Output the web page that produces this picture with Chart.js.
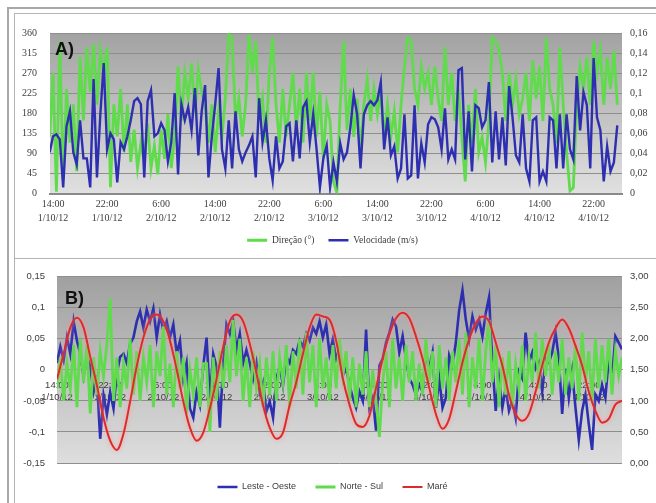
<!DOCTYPE html>
<html>
<head>
<meta charset="utf-8">
<script src="https://cdn.jsdelivr.net/npm/chart.js@4.4.1/dist/chart.umd.min.js"></script>
<style>
  html, body { margin: 0; padding: 0; background: #fff; }
  body { width: 656px; height: 503px; position: relative; overflow: hidden; }
  .frame { position: absolute; left: 7px; top: 7px; width: 700px; height: 560px;
           border-left: 2px solid #a8a8a8; border-top: 2px solid #a8a8a8; }
  .panel { position: absolute; left: 14px; width: 650px; border: 1px solid #b4b4b4; background: #fff; }
  #panelA { top: 13px; height: 244px; }
  #panelB { top: 258px; height: 250px; }
  canvas { position: absolute; left: 0; top: 0; }
</style>
</head>
<body>
<div class="frame"></div>
<div class="panel" id="panelA"><canvas id="chartA" width="635" height="243"></canvas></div>
<div class="panel" id="panelB"><canvas id="chartB" width="635" height="244"></canvas></div>
<script>
// time axis: hours after 14:00 on 1/10/12
const tickHours = [0, 8, 16, 24, 32, 40, 48, 56, 64, 72, 80];
const tickLabels = [
  ['14:00', '1/10/12'], ['22:00', '1/10/12'], ['6:00', '2/10/12'], ['14:00', '2/10/12'],
  ['22:00', '2/10/12'], ['6:00', '3/10/12'], ['14:00', '3/10/12'], ['22:00', '3/10/12'],
  ['6:00', '4/10/12'], ['14:00', '4/10/12'], ['22:00', '4/10/12']
];

// panel A axes
const dirTicks = [0, 45, 90, 135, 180, 225, 270, 315, 360];
const dirTickLabels = ['0', '45', '90', '135', '180', '225', '270', '315', '360'];
const velTicks = [0, 0.02, 0.04, 0.06, 0.08, 0.1, 0.12, 0.14, 0.16];
const velTickLabels = ['0', '0,02', '0,04', '0,06', '0,08', '0,1', '0,12', '0,14', '0,16'];

// panel B axes
const compTicks = [-0.15, -0.1, -0.05, 0, 0.05, 0.1, 0.15];
const compTickLabels = ['-0,15', '-0,1', '-0,05', '0', '0,05', '0,1', '0,15'];
const tideTicks = [0, 0.5, 1, 1.5, 2, 2.5, 3];
const tideTickLabels = ['0,00', '0,50', '1,00', '1,50', '2,00', '2,50', '3,00'];

// panel A series, half-hourly from 13:30 1/10
const startA = -0.5;
const direcao = [
  128, 271, 4, 342, 29, 235, 114, 200, 50, 307,
  164, 328, 228, 335, 200, 321, 271, 328, 14, 200,
  128, 235, 93, 200, 71, 143, 57, 114, 71, 157,
  57, 107, 43, 143, 78, 178, 57, 128, 285, 164,
  271, 214, 292, 178, 278, 228, 200, 114, 200, 93,
  185, 128, 214, 357, 349, 164, 214, 128, 200, 357,
  271, 342, 164, 214, 114, 271, 349, 200, 114, 235,
  128, 200, 271, 143, 235, 114, 271, 164, 271, 128,
  228, 78, 200,
  162, 27, 2, 199, 342, 142, 235, 127, 213, 92,
  199, 256, 163, 235, 178, 228, 127, 199, 127, 185,
  92, 199, 285, 349, 342, 235, 199, 285, 235, 271,
  199, 285, 213, 163, 328, 199, 271, 163, 235, 127,
  27, 199, 113, 235, 92, 127, 70, 163, 349, 342,
  321, 271, 163, 271, 199, 256, 178, 213, 271, 163,
  299, 213, 285, 163, 349, 235, 199, 113, 328, 199,
  92, 6, 13, 199, 285, 235, 306, 199, 342, 271,
  321, 199, 306, 235, 321, 199
];
const velocidade = [
  0.041, 0.057, 0.059, 0.054, 0.006, 0.067, 0.082, 0.041, 0.029, 0.073,
  0.035, 0.035, 0.006, 0.114, 0.016, 0.079, 0.130, 0.044, 0.060, 0.054,
  0.011, 0.051, 0.044, 0.057, 0.073, 0.092, 0.095, 0.089, 0.016, 0.092,
  0.103, 0.057, 0.060, 0.070, 0.063, 0.032, 0.051, 0.100, 0.019, 0.089,
  0.073, 0.086, 0.063, 0.105, 0.038, 0.082, 0.108, 0.016, 0.057, 0.089,
  0.125, 0.044, 0.025, 0.073, 0.025, 0.082, 0.044, 0.032, 0.041, 0.048,
  0.057, 0.016, 0.095, 0.051, 0.073, 0.035, 0.013, 0.057, 0.025, 0.032,
  0.067, 0.070, 0.032, 0.073, 0.035, 0.086, 0.092, 0.051, 0.079, 0.044,
  0.006, 0.035, 0.048,
  0.006, 0.031, 0.012, 0.050, 0.034, 0.041, 0.066, 0.098, 0.079, 0.025,
  0.079, 0.088, 0.092, 0.088, 0.093, 0.111, 0.044, 0.076, 0.038, 0.047,
  0.015, 0.025, 0.079, 0.015, 0.018, 0.088, 0.015, 0.050, 0.031, 0.069,
  0.076, 0.074, 0.066, 0.044, 0.085, 0.034, 0.044, 0.034, 0.123, 0.125,
  0.034, 0.082, 0.022, 0.088, 0.085, 0.066, 0.073, 0.111, 0.031, 0.082,
  0.034, 0.076, 0.028, 0.107, 0.076, 0.038, 0.031, 0.079, 0.025, 0.012,
  0.073, 0.076, 0.012, 0.022, 0.012, 0.076, 0.073, 0.025, 0.079, 0.025,
  0.079, 0.044, 0.034, 0.117, 0.063, 0.101, 0.088, 0.025, 0.135, 0.076,
  0.063, 0.012, 0.047, 0.022, 0.031, 0.068
];

// panel B current components, half-hourly from 14:00 1/10
const startB = 0;
const lesteOeste = [
  0.011, 0.037, 0.016, 0.052, 0.026, 0.078, 0.047, 0.026, -0.010, 0.021,
  0.006, -0.036, -0.015, -0.111, -0.041, -0.072, -0.036, -0.062, -0.005, 0.021,
  0.026, 0.011, 0.042, 0.052, 0.078, 0.094, 0.068, 0.097, 0.078, 0.099,
  0.052, 0.089, 0.063, 0.078, 0.052, 0.073, 0.026, 0.047, -0.015, 0.011,
  -0.062, -0.077, -0.036, -0.057, 0.006, 0.052, -0.046, 0.026, 0.006, -0.093,
  0.011, 0.073, 0.058, 0.078, 0.032, 0.058, 0.011, 0.032, 0.011, -0.015,
  0.011, -0.036, -0.020, -0.067, -0.051, -0.077, -0.015, 0.006, -0.025, 0.021,
  0.011, 0.032, 0.026, 0.047, 0.037, 0.058, 0.047, 0.068, 0.058, 0.078,
  0.052, 0.073, 0.026,
  0.049, 0.018, 0.033, -0.009, 0.002, -0.024, -0.045, -0.061, -0.035, -0.050,
  0.065, -0.061, -0.045, -0.098, 0.007, 0.018, 0.044, 0.060, 0.081, 0.070,
  0.028, 0.054, 0.018, -0.014, -0.024, -0.040, -0.024, -0.035, 0.028, 0.002,
  0.028, -0.061, -0.014, -0.061, -0.045, 0.023, 0.007, 0.044, 0.096, 0.128,
  0.081, 0.049, 0.086, 0.065, 0.081, 0.054, 0.091, 0.117, 0.012, -0.066,
  -0.014, -0.061, -0.029, -0.066, -0.050, -0.077, -0.003, -0.014, 0.060, 0.012,
  0.028, 0.002, 0.012, -0.035, 0.018, 0.012, 0.028, 0.060, 0.018, -0.071,
  0.002, -0.045, -0.003, -0.061, -0.113, -0.066, -0.040, -0.087, -0.129, -0.040,
  -0.050, -0.024, -0.045, 0.018, -0.014, 0.054, 0.044, 0.033
];
const norteSul = [
  -0.03, 0.02, -0.05, 0.01, -0.03, 0.04, -0.06, 0.05, -0.02, 0.04,
  -0.07, 0.02, -0.04, 0.03, -0.01, 0.04, 0.115, -0.05, 0.02, -0.06,
  0.01, -0.03, 0.05, -0.04, 0.03, -0.05, 0.02, -0.02, 0.04, -0.06,
  0.03, -0.01, 0.07, -0.04, 0.01, -0.06, 0.03, -0.03, 0.02, -0.07,
  0.0, -0.04, 0.02, -0.06, 0.01, 0.01, -0.1, 0.02, -0.05, 0.03,
  -0.03, 0.04, -0.02, 0.08, -0.01, 0.05, -0.05, 0.02, -0.06, 0.03,
  -0.03, 0.01, -0.06, 0.02, -0.04, 0.03, -0.05, 0.02, -0.02, 0.04,
  -0.06, 0.03, -0.03, 0.05, -0.04, 0.06, -0.02, 0.04, -0.06, 0.05,
  -0.03, 0.02, -0.05,
  0.04, -0.03, 0.05, -0.01, 0.03, -0.05, 0.02, -0.06, 0.01, -0.04,
  0.03, -0.06, 0.0, -0.05, -0.108, -0.02, 0.03, -0.06, 0.05, -0.03,
  0.02, -0.05, 0.04, -0.02, 0.03, -0.05, 0.01, -0.04, 0.05, -0.02,
  0.03, -0.06, 0.04, -0.03, 0.02, -0.05, 0.03, -0.02, 0.05, -0.04,
  0.06, -0.06, 0.02, -0.03, 0.05, -0.05, 0.03, 0.08, -0.02, 0.04,
  -0.06, 0.02, -0.04, 0.03, -0.06, 0.01, -0.03, 0.04, -0.05, 0.02,
  -0.02, 0.06, -0.03, 0.05, -0.01, 0.04, -0.04, 0.03, -0.02, 0.05,
  -0.04, 0.02, -0.03, 0.04, -0.05, 0.06, -0.02, 0.03, -0.05, 0.05,
  -0.03, 0.04, -0.02, 0.05, -0.04, 0.03, -0.01, 0.02
];
// tide level, hourly from 14:00 1/10
const mare = [
  1.35, 1.76, 2.18, 2.34, 2.18, 1.71, 1.25, 0.73, 0.36, 0.21,
  0.47, 0.99, 1.56, 2.02, 2.31, 2.39, 2.28, 1.97, 1.51, 0.99,
  0.57, 0.36, 0.49, 0.88, 1.35, 1.87, 2.28, 2.39, 2.28, 1.92,
  1.45, 0.93, 0.57, 0.39, 0.49, 0.93, 1.30, 1.76, 2.18, 2.39,
  2.36, 2.31, 1.97, 1.36, 0.94, 0.63, 0.58, 0.76, 1.21, 1.68,
  2.07, 2.33, 2.42, 2.33, 2.04, 1.68, 1.21, 0.79, 0.55, 0.71,
  1.15, 1.62, 1.99, 2.25, 2.36, 2.28, 1.94, 1.57, 1.10, 0.79,
  0.68, 0.79, 1.15, 1.57, 1.94, 2.17, 2.31, 2.17, 1.89, 1.57,
  1.15, 0.84, 0.65, 0.71, 0.94, 1.00
];

const GREEN = '#5fdb4c';
const BLUE = '#2d2fb0';
const RED = '#dd2b2b';
const TEXT = '#3c3c3c';
const GRID = '#8e8e8e';
const SERIF = '"Liberation Serif", "DejaVu Serif", serif';
const SANS = '"Liberation Sans", Arial, sans-serif';

const series = (values, start, step) => values.map((v, i) => ({ x: start + i * step, y: v }));

// grey gradient behind the plot area
const plotBackground = {
  id: 'plotBackground',
  beforeDraw(chart, args, opts) {
    const { ctx, chartArea: a } = chart;
    const g = ctx.createLinearGradient(0, a.top, 0, a.bottom);
    g.addColorStop(0, opts.top);
    g.addColorStop(1, opts.bottom);
    ctx.save();
    ctx.fillStyle = g;
    ctx.fillRect(a.left, a.top, a.right - a.left, a.bottom - a.top);
    ctx.restore();
  }
};

// pink glow around the tide curve
const lineGlow = {
  id: 'lineGlow',
  beforeDatasetDraw(chart, args, opts) {
    if (chart.data.datasets[args.index].label !== opts.label) return;
    const ctx = chart.ctx;
    ctx.save();
    ctx.shadowColor = opts.color;
    ctx.shadowBlur = opts.blur;
  },
  afterDatasetDraw(chart, args, opts) {
    if (chart.data.datasets[args.index].label !== opts.label) return;
    chart.ctx.restore();
  }
};

// "A)" / "B)" tag in the upper left corner of the plot
const panelTag = {
  id: 'panelTag',
  afterDatasetsDraw(chart, args, opts) {
    const { ctx, chartArea: a } = chart;
    ctx.save();
    ctx.font = 'bold 18px ' + SANS;
    ctx.fillStyle = '#111';
    ctx.textBaseline = 'middle';
    ctx.fillText(opts.text, a.left + opts.dx, a.top + opts.dy);
    ctx.restore();
  }
};

const timeAxis = (extra) => Object.assign({
  type: 'linear',
  afterBuildTicks: s => { s.ticks = tickHours.map(v => ({ value: v })); },
  grid: { display: false, drawTicks: false }
}, extra);

const valueAxis = (vals, extra) => Object.assign({
  afterBuildTicks: s => { s.ticks = vals.map(v => ({ value: v })); },
  border: { display: false }
}, extra);

const legendOpts = (font, padding) => ({
  position: 'bottom',
  labels: {
    color: TEXT, font, padding,
    usePointStyle: true, pointStyle: 'line', pointStyleWidth: 20,
    sort: (a, b) => a.datasetIndex - b.datasetIndex
  }
});

new Chart(document.getElementById('chartA'), {
  type: 'line',
  data: {
    datasets: [
      { label: 'Direção (°)', data: series(direcao, startA, 0.5), yAxisID: 'y',
        borderColor: GREEN, backgroundColor: GREEN, borderWidth: 2.8, pointRadius: 0, tension: 0, order: 2 },
      { label: 'Velocidade (m/s)', data: series(velocidade, startA, 0.5), yAxisID: 'y1',
        borderColor: BLUE, backgroundColor: BLUE, borderWidth: 2.4, pointRadius: 0, tension: 0, order: 1 }
    ]
  },
  options: {
    responsive: false, animation: false,
    layout: { padding: { top: 11, bottom: 2, left: 0, right: 0 } },
    plugins: {
      legend: legendOpts({ family: SERIF, size: 9.5 }, 14),
      tooltip: { enabled: false },
      plotBackground: { top: '#a2a2a2', bottom: '#e0e0e0' },
      panelTag: { text: 'A)', dx: 5, dy: 17 }
    },
    scales: {
      x: timeAxis({
        min: -0.45, max: 84.2,
        afterFit: s => { s.height = 28; },
        border: { color: '#8a8a8a', width: 2 },
        ticks: { autoSkip: false, maxRotation: 0, padding: 4, color: TEXT,
                 font: { family: SERIF, size: 10, lineHeight: 1.4 }, callback: (v, i) => tickLabels[i] }
      }),
      y: valueAxis(dirTicks, {
        position: 'left', min: 0, max: 360,
        afterFit: s => { s.width = 35; },
        grid: { color: GRID, drawTicks: false },
        ticks: { padding: 13, color: TEXT, font: { family: SERIF, size: 10 }, callback: (v, i) => dirTickLabels[i] }
      }),
      y1: valueAxis(velTicks, {
        position: 'right', min: 0, max: 0.16,
        afterFit: s => { s.width = 28; },
        grid: { display: false, drawTicks: false },
        ticks: { padding: 8, color: TEXT, font: { family: SERIF, size: 10 }, callback: (v, i) => velTickLabels[i] }
      })
    }
  },
  plugins: [plotBackground, panelTag]
});

new Chart(document.getElementById('chartB'), {
  type: 'line',
  data: {
    datasets: [
      { label: 'Leste - Oeste', data: series(lesteOeste, startB, 0.5), yAxisID: 'y',
        borderColor: BLUE, backgroundColor: BLUE, borderWidth: 2.6, pointRadius: 0, tension: 0, order: 3 },
      { label: 'Norte - Sul', data: series(norteSul, startB, 0.5), yAxisID: 'y',
        borderColor: GREEN, backgroundColor: GREEN, borderWidth: 2.8, pointRadius: 0, tension: 0, order: 2 },
      { label: 'Maré', data: series(mare, startB, 1), yAxisID: 'y1',
        borderColor: RED, backgroundColor: RED, borderWidth: 2, pointRadius: 0,
        cubicInterpolationMode: 'monotone', order: 1 }
    ]
  },
  options: {
    responsive: false, animation: false,
    layout: { padding: { top: 11, bottom: 1.5, left: 0, right: 0 } },
    plugins: {
      legend: legendOpts({ family: SANS, size: 9 }, 19.5),
      tooltip: { enabled: false },
      plotBackground: { top: '#a0a0a0', bottom: '#dedede' },
      lineGlow: { label: 'Maré', color: 'rgba(255,150,150,0.9)', blur: 4 },
      panelTag: { text: 'B)', dx: 8, dy: 22 }
    },
    scales: {
      x: timeAxis({
        min: 0, max: 85,
        position: { y: 0 },
        border: { color: '#9a9a9a', width: 1 },
        ticks: { autoSkip: false, maxRotation: 0, padding: 9.5, color: TEXT,
                 font: { family: SANS, size: 9.5, lineHeight: 1.25 }, callback: (v, i) => tickLabels[i] }
      }),
      y: valueAxis(compTicks, {
        position: 'left', min: -0.15, max: 0.15,
        afterFit: s => { s.width = 42; },
        grid: { color: GRID, drawTicks: false },
        ticks: { padding: 12, color: TEXT, font: { family: SANS, size: 9.5 }, callback: (v, i) => compTickLabels[i] }
      }),
      y1: valueAxis(tideTicks, {
        position: 'right', min: 0, max: 3,
        afterFit: s => { s.width = 28; },
        grid: { display: false, drawTicks: false },
        ticks: { padding: 8, color: TEXT, font: { family: SANS, size: 9.5 }, callback: (v, i) => tideTickLabels[i] }
      })
    }
  },
  plugins: [plotBackground, lineGlow, panelTag]
});
</script>
</body>
</html>
